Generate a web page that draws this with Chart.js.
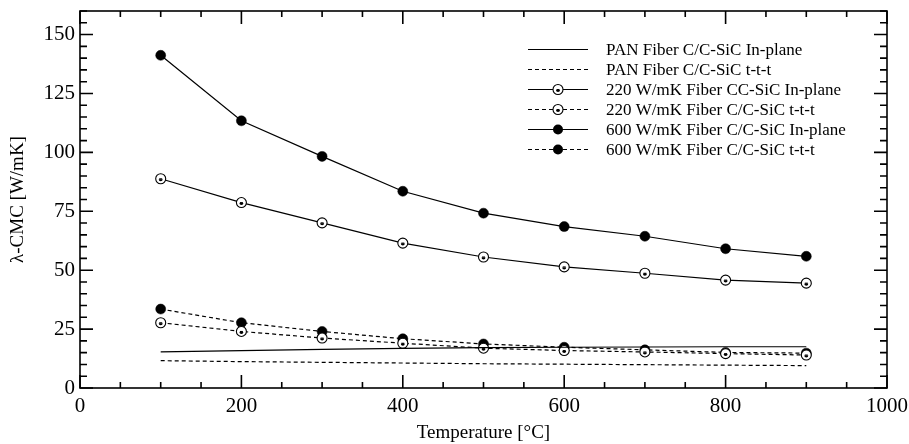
<!DOCTYPE html>
<html>
<head>
<meta charset="utf-8">
<script src="https://cdn.jsdelivr.net/npm/chart.js@4.4.1/dist/chart.umd.min.js"></script>
<style>
  html, body { margin: 0; padding: 0; background: #fff; }
  #wrap { width: 909px; height: 444px; }
</style>
</head>
<body>
<div id="wrap"><canvas id="chart" width="909" height="444"></canvas></div>
<script>
// temperatures [°C]
const temps = [100, 200, 300, 400, 500, 600, 700, 800, 900];

// thermal conductivity [W/mK]
const panInPlane = [15.3, 15.9, 16.4, 16.8, 17.1, 17.3, 17.4, 17.5, 17.5];
const panTtt = [11.6, 11.2, 10.9, 10.6, 10.3, 10.1, 9.9, 9.7, 9.5];
const f220InPlane = [88.8, 78.7, 70.1, 61.5, 55.6, 51.4, 48.7, 45.8, 44.5];
const f220Ttt = [27.7, 24.0, 21.2, 19.0, 16.9, 15.9, 15.3, 14.6, 14.0];
const f600InPlane = [141.2, 113.4, 98.3, 83.5, 74.2, 68.5, 64.4, 59.1, 55.9];
const f600Ttt = [33.5, 27.7, 24.0, 20.9, 18.7, 17.3, 16.2, 15.1, 14.8];

const seriesNames = [
    'PAN Fiber C/C-SiC In-plane',
    'PAN Fiber C/C-SiC t-t-t',
    '220 W/mK Fiber CC-SiC In-plane',
    '220 W/mK Fiber C/C-SiC t-t-t',
    '600 W/mK Fiber C/C-SiC In-plane',
    '600 W/mK Fiber C/C-SiC t-t-t'
];

const xTicks = [0, 200, 400, 600, 800, 1000];
const yTicks = [0, 25, 50, 75, 100, 125, 150];

const SERIF = '"Liberation Serif", "DejaVu Serif", serif';
const DASH = [4, 3];

Chart.defaults.color = '#000';
Chart.defaults.font.family = SERIF;

// small dark mark inside the open 220 W/mK circles
function innerMark(ctx, x, y) {
    ctx.beginPath();
    ctx.arc(x, y + 0.5, 2, 0, Math.PI);
    ctx.fill();
    ctx.fillRect(x - 1.5, y - 0.5, 3, 1.2);
}

function pairs(vals) {
    return temps.map((t, i) => ({ x: t, y: vals[i] }));
}

function ds(label, vals, dashed, marker) {
    const d = {
        label: label,
        data: pairs(vals),
        borderColor: '#000',
        borderWidth: 1.2,
        borderDash: dashed ? DASH : [],
        backgroundColor: '#000',
        pointRadius: 0,
        pointHoverRadius: 0,
        tension: 0,
        marker: marker
    };
    if (marker === 'filled') {
        d.pointRadius = 5;
        d.pointStyle = 'circle';
        d.pointBackgroundColor = '#000';
        d.pointBorderColor = '#000';
        d.pointBorderWidth = 0.5;
    } else if (marker === 'open') {
        d.pointRadius = 5;
        d.pointStyle = 'circle';
        d.pointBackgroundColor = '#fff';
        d.pointBorderColor = '#000';
        d.pointBorderWidth = 1.1;
    }
    return d;
}

// frame, inside ticks on all four sides, and the legend box
const framePlugin = {
    id: 'frame',
    afterDatasetsDraw(chart) {
        const ctx = chart.ctx;
        ctx.save();
        ctx.fillStyle = '#000';
        chart.data.datasets.forEach((d, i) => {
            if (d.marker !== 'open') return;
            chart.getDatasetMeta(i).data.forEach(pt => innerMark(ctx, pt.x, pt.y));
        });
        ctx.restore();
    },
    afterDraw(chart) {
        const ctx = chart.ctx;
        const a = chart.chartArea;
        const xs = chart.scales.x, ys = chart.scales.y;
        ctx.save();
        ctx.strokeStyle = '#000';
        ctx.lineWidth = 1.6;
        ctx.strokeRect(a.left, a.top, a.right - a.left, a.bottom - a.top);

        ctx.beginPath();
        for (let v = 0; v <= 1000; v += 50) {
            const len = v % 200 === 0 ? 13 : 6;
            const px = xs.getPixelForValue(v);
            ctx.moveTo(px, a.bottom); ctx.lineTo(px, a.bottom - len);
            ctx.moveTo(px, a.top); ctx.lineTo(px, a.top + len);
        }
        for (let v = 0; v <= 160; v += 5) {
            const len = v % 25 === 0 ? 13 : 7;
            const py = ys.getPixelForValue(v);
            ctx.moveTo(a.left, py); ctx.lineTo(a.left + len, py);
            ctx.moveTo(a.right, py); ctx.lineTo(a.right - len, py);
        }
        ctx.stroke();

        // legend
        const x0 = a.right - 359, x1 = a.right - 299, tx = a.right - 281;
        let y = Math.round(a.top + 38) + 0.5;
        ctx.font = '17px ' + SERIF;
        ctx.textBaseline = 'middle';
        ctx.fillStyle = '#000';
        chart.data.datasets.forEach(d => {
            ctx.lineWidth = 1.2;
            ctx.setLineDash(d.borderDash);
            ctx.beginPath();
            ctx.moveTo(x0, y); ctx.lineTo(x1, y);
            ctx.stroke();
            ctx.setLineDash([]);
            const mx = (x0 + x1) / 2;
            if (d.marker) {
                ctx.beginPath();
                ctx.arc(mx, y, 5, 0, Math.PI * 2);
                if (d.marker === 'filled') {
                    ctx.fill();
                } else {
                    ctx.fillStyle = '#fff';
                    ctx.fill();
                    ctx.lineWidth = 1.1;
                    ctx.stroke();
                    ctx.fillStyle = '#000';
                    innerMark(ctx, mx, y);
                }
            }
            ctx.fillText(d.label, tx, y + 1);
            y += 20;
        });
        ctx.restore();
    }
};

new Chart(document.getElementById('chart'), {
    type: 'line',
    data: {
        datasets: [
            ds(seriesNames[0], panInPlane, false, null),
            ds(seriesNames[1], panTtt, true, null),
            ds(seriesNames[2], f220InPlane, false, 'open'),
            ds(seriesNames[3], f220Ttt, true, 'open'),
            ds(seriesNames[4], f600InPlane, false, 'filled'),
            ds(seriesNames[5], f600Ttt, true, 'filled')
        ]
    },
    options: {
        responsive: false,
        animation: false,
        events: [],
        layout: { padding: { top: 11, right: 22, left: 0, bottom: 0 } },
        plugins: {
            legend: { display: false },
            tooltip: { enabled: false }
        },
        scales: {
            x: {
                type: 'linear',
                min: 0,
                max: 1000,
                afterFit(scale) {
                    scale.height = 56;
                    scale.paddingLeft = 0;
                    scale.paddingRight = 0;
                },
                afterBuildTicks(scale) { scale.ticks = xTicks.map(v => ({ value: v })); },
                grid: { display: false, drawTicks: false },
                border: { display: false },
                ticks: {
                    padding: 6,
                    font: { size: 21, family: SERIF },
                    maxRotation: 0,
                    callback: v => String(v)
                },
                title: {
                    display: true,
                    text: 'Temperature [°C]',
                    font: { size: 19, family: SERIF },
                    padding: { top: 0, bottom: 0 }
                }
            },
            y: {
                min: 0,
                max: 160,
                afterFit(scale) {
                    scale.width = 80;
                    scale.paddingTop = 0;
                    scale.paddingBottom = 0;
                },
                afterBuildTicks(scale) { scale.ticks = yTicks.map(v => ({ value: v })); },
                grid: { display: false, drawTicks: false },
                border: { display: false },
                ticks: { padding: 5, font: { size: 21, family: SERIF } },
                title: {
                    display: true,
                    text: 'λ-CMC [W/mK]',
                    font: { size: 19, family: SERIF },
                    padding: { top: 7, bottom: 0 }
                }
            }
        }
    },
    plugins: [framePlugin]
});
</script>
</body>
</html>
